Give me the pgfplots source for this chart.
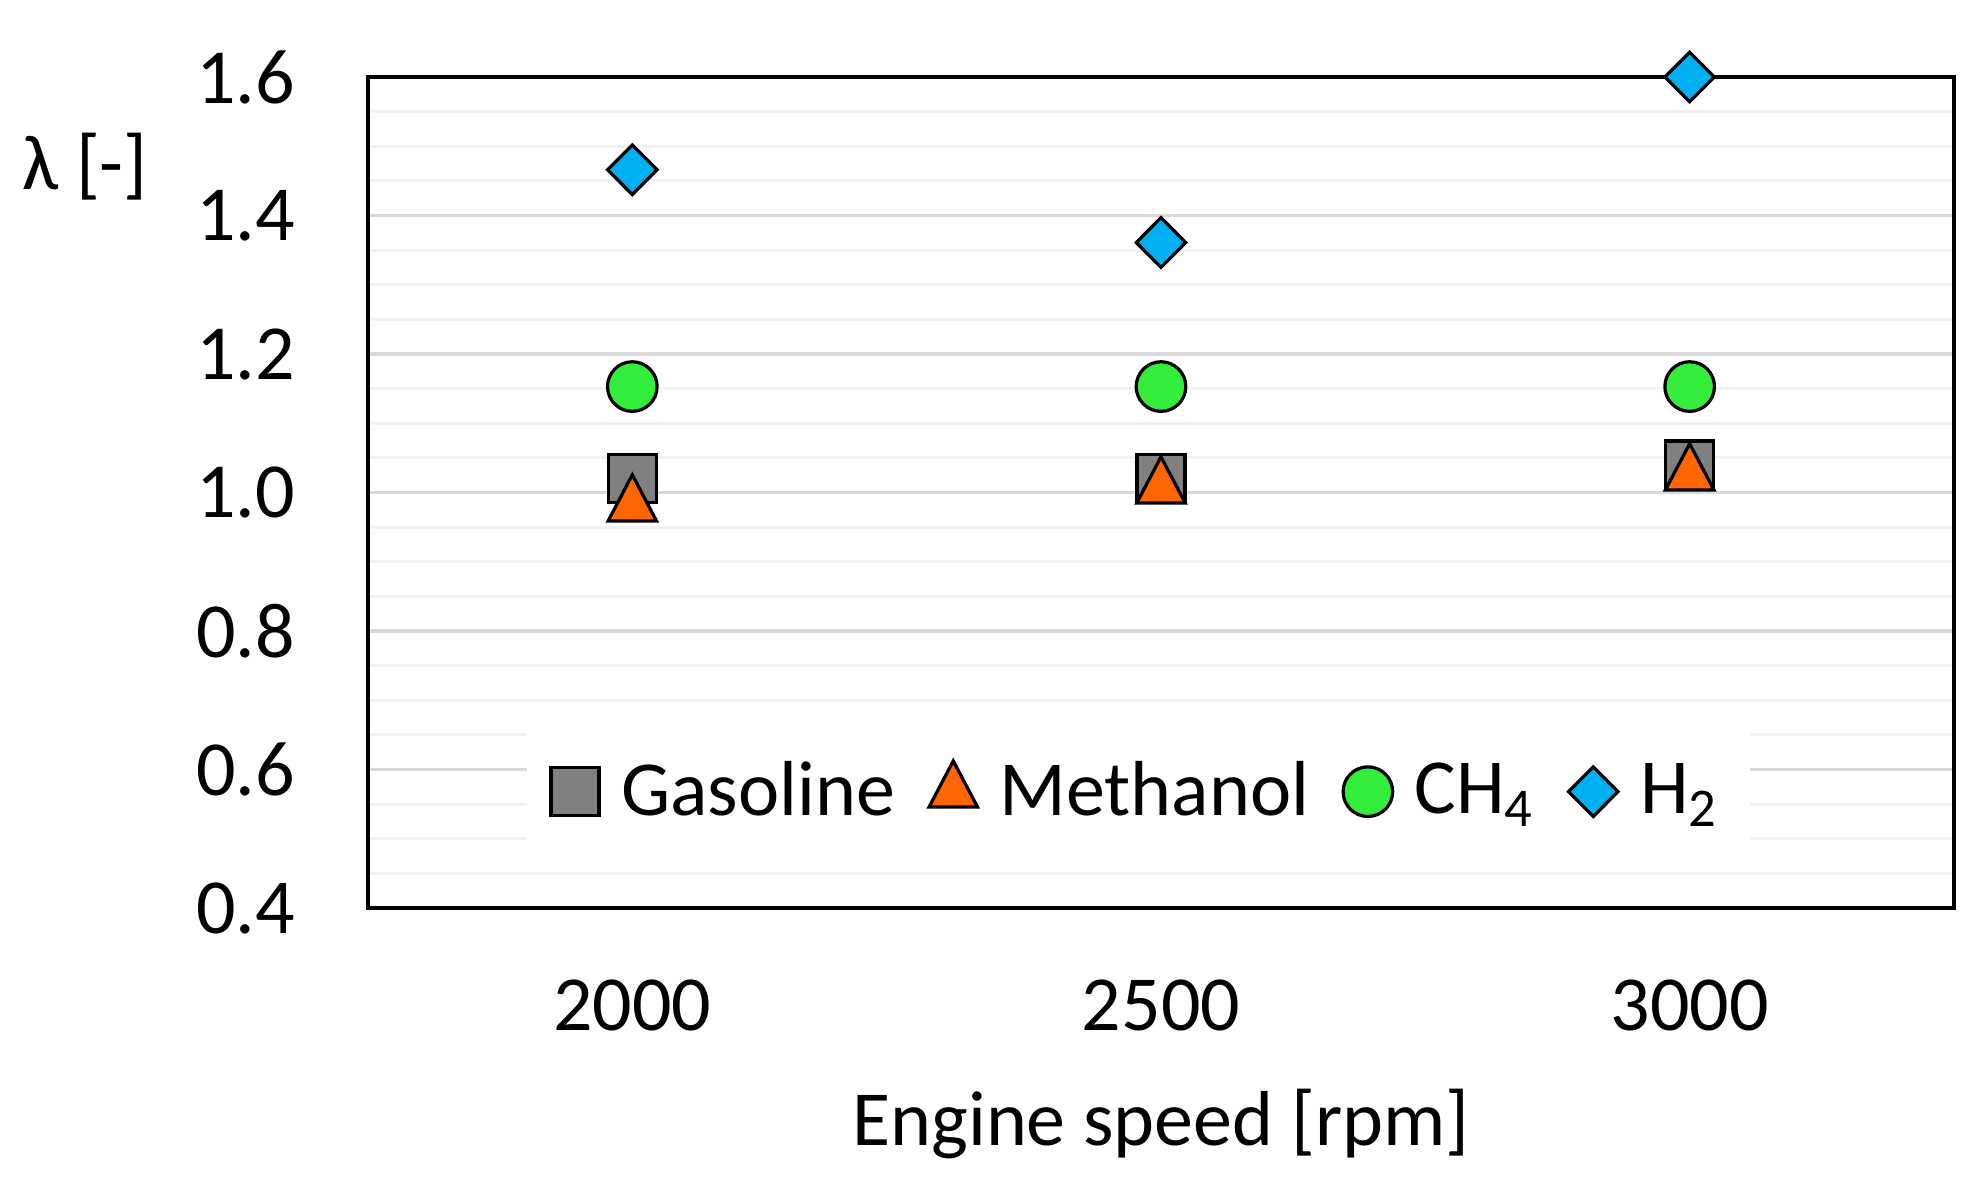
\documentclass[border=0pt]{standalone}
\usepackage{fontspec}
\setmainfont{Carlito}
\usepackage{pgfplots}
\pgfplotsset{compat=1.18}
\definecolor{gasc}{HTML}{808080}
\definecolor{metc}{HTML}{FF6600}
\definecolor{ch4c}{HTML}{33EE3A}
\definecolor{h2c}{HTML}{00B0F0}
\begin{document}
\begin{tikzpicture}
\begin{axis}[
 scale only axis, width=396.5pt, height=207.75pt,
 at={(0,0)}, anchor=south west,
 xmin=1750, xmax=3250, ymin=0.4, ymax=1.6,
 xtick={2000,2500,3000}, xticklabels={2000,2500,3000},
 ytick={0.4,0.6,0.8,1.0,1.2,1.4,1.6},
 yticklabels={0.4,0.6,0.8,1.0,1.2,1.4,1.6},
 minor y tick num=3,
 ymajorgrids, yminorgrids,
 major grid style={draw=black!15, line width=0.8pt},
 minor grid style={draw=black!5, line width=0.8pt},
 major tick length=0pt, minor tick length=0pt,
 tick style={draw=none},
 axis line style={line width=1pt},
 clip=false,
 font=\fontsize{19.5}{23}\selectfont,
 xticklabel style={yshift=-14.35pt},
 yticklabel style={xshift=-14.75pt},
 xlabel={Engine speed [rpm]},
 every axis x label/.style={at={(axis description cs:0.5,0)}, anchor=center, yshift=-54.1pt},
 ylabel={λ [-]},
 every axis y label/.style={at={(axis description cs:0,1)}, anchor=center, xshift=-70.75pt, yshift=-22.5pt},
 legend columns=4,
 legend style={at={(rel axis cs:0.486,0.140)}, anchor=center, draw=none, fill=white,
   inner xsep=6pt, inner ysep=7pt, font=\fontsize{19.5}{23}\selectfont,
   /tikz/every odd column/.append style={column sep=3.5pt},
   /tikz/every even column/.append style={column sep=6.5pt}},
 legend cell align=left,
]
\addplot[only marks, mark=square*, mark size=6pt, mark options={fill=gasc, draw=black, line width=0.9pt}]
 coordinates {(2000,1.02)(2500,1.02)(3000,1.04)};
\addlegendentry{Gasoline}
\addplot[only marks, mark=triangle*, mark size=7pt, mark options={fill=metc, draw=black, line width=0.8pt, yscale=1.1}]
 coordinates {(2000,0.981)(2500,1.007)(3000,1.026)};
\addlegendentry{Methanol}
\addplot[only marks, mark=*, mark size=6.2pt, mark options={fill=ch4c, draw=black, line width=0.8pt}]
 coordinates {(2000,1.153)(2500,1.153)(3000,1.153)};
\addlegendentry{CH\textsubscript{4}}
\addplot[only marks, mark=diamond*, mark size=6.2pt, mark options={fill=h2c, draw=black, line width=0.8pt, xscale=1.33}]
 coordinates {(2000,1.466)(2500,1.361)(3000,1.6)};
\addlegendentry{H\textsubscript{2}}
\end{axis}
\pgfresetboundingbox
\path[use as bounding box] (-92pt,-68.25pt) rectangle (403.25pt,227pt);
\end{tikzpicture}
\end{document}
